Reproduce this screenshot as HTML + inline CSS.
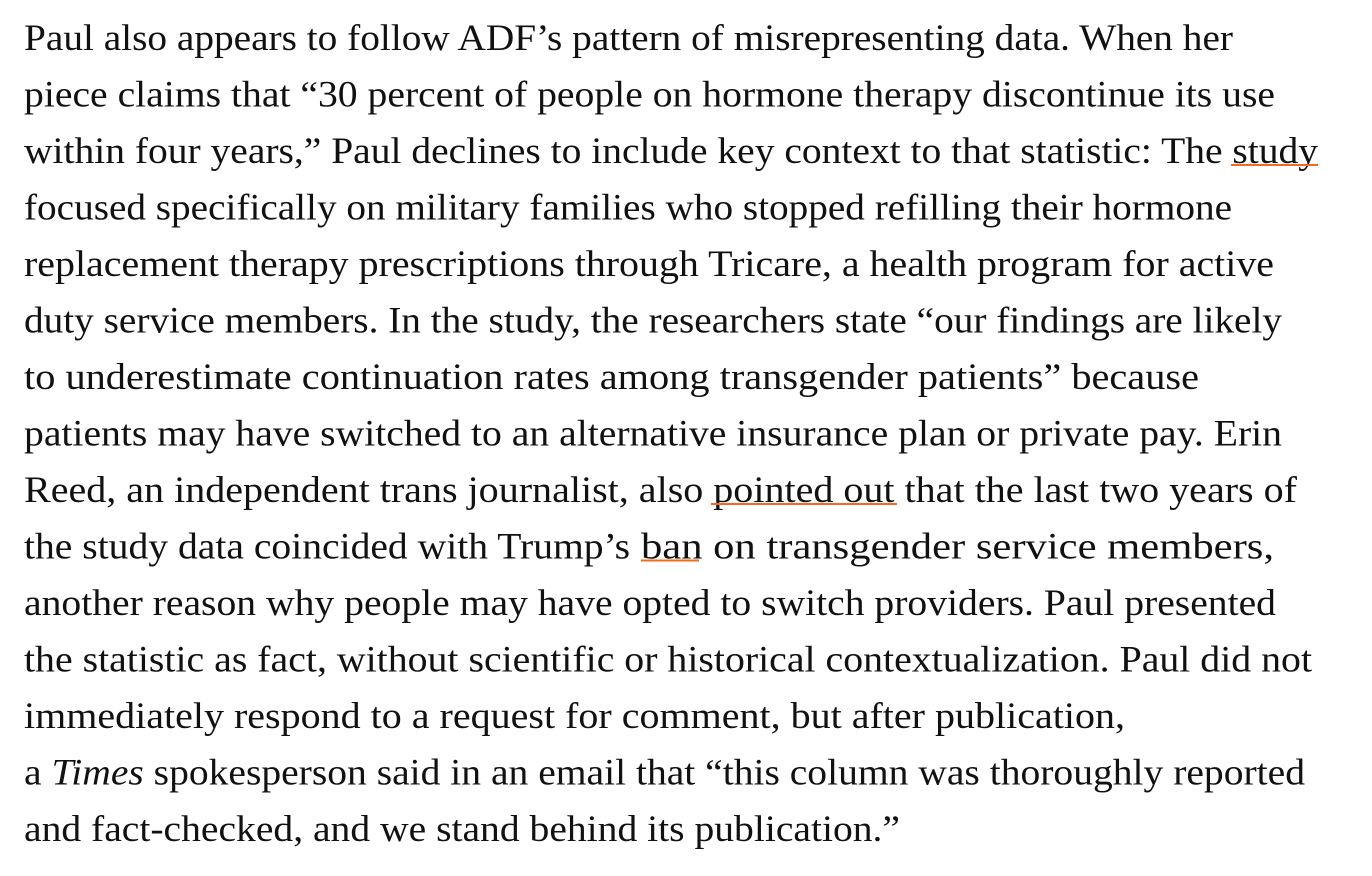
<!DOCTYPE html>
<html><head><meta charset="utf-8"><style>
html,body{margin:0;padding:0;background:#fff;}
svg{display:block}
text{font-family:"Liberation Serif",serif;font-size:37px;fill:#111;}
</style></head><body>
<svg width="1372" height="876" viewBox="0 0 1372 876">
<g>
<text x="24" y="50" textLength="1209" lengthAdjust="spacingAndGlyphs">Paul also appears to follow ADF’s pattern of misrepresenting data. When her</text>
<text x="24" y="106.5" textLength="1251" lengthAdjust="spacingAndGlyphs">piece claims that “30 percent of people on hormone therapy discontinue its use</text>
<text x="24" y="163" textLength="1294" lengthAdjust="spacingAndGlyphs">within four years,” Paul declines to include key context to that statistic: The study</text>
<text x="24" y="219.5" textLength="1208" lengthAdjust="spacingAndGlyphs">focused specifically on military families who stopped refilling their hormone</text>
<text x="24" y="276" textLength="1250" lengthAdjust="spacingAndGlyphs">replacement therapy prescriptions through Tricare, a health program for active</text>
<text x="24" y="332.5" textLength="1258" lengthAdjust="spacingAndGlyphs">duty service members. In the study, the researchers state “our findings are likely</text>
<text x="24" y="389" textLength="1175" lengthAdjust="spacingAndGlyphs">to underestimate continuation rates among transgender patients” because</text>
<text x="24" y="445.5" textLength="1258" lengthAdjust="spacingAndGlyphs">patients may have switched to an alternative insurance plan or private pay. Erin</text>
<text x="24" y="502" textLength="1273" lengthAdjust="spacingAndGlyphs">Reed, an independent trans journalist, also pointed out that the last two years of</text>
<text x="24" y="558.5" textLength="606" lengthAdjust="spacingAndGlyphs">the study data coincided with Trump’s</text>
<text x="641" y="558.5" textLength="633" lengthAdjust="spacingAndGlyphs">ban on transgender service members,</text>
<text x="24" y="615" textLength="1252" lengthAdjust="spacingAndGlyphs">another reason why people may have opted to switch providers. Paul presented</text>
<text x="24" y="671.5" textLength="1288" lengthAdjust="spacingAndGlyphs">the statistic as fact, without scientific or historical contextualization. Paul did not</text>
<text x="24" y="728" textLength="1101" lengthAdjust="spacingAndGlyphs">immediately respond to a request for comment, but after publication,</text>
<text x="24" y="784.5" textLength="1281" lengthAdjust="spacingAndGlyphs">a <tspan font-style="italic">Times</tspan> spokesperson said in an email that “this column was thoroughly reported</text>
<text x="24" y="841" textLength="876" lengthAdjust="spacingAndGlyphs">and fact-checked, and we stand behind its publication.”</text>
</g>
<g fill="#f26b1d">
<rect x="1231" y="164" width="87" height="2"/>
<rect x="711" y="503" width="186" height="2"/>
<rect x="641" y="559.5" width="58" height="2"/>
</g>
</svg>
</body></html>
